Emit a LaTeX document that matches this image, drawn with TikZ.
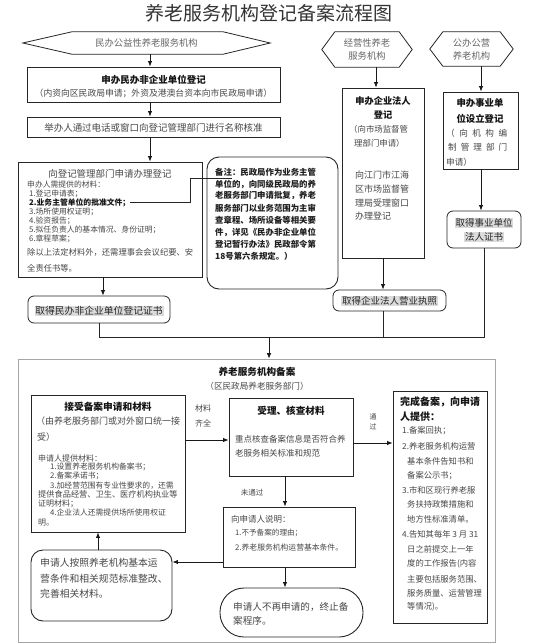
\documentclass[tikz,border=0pt]{standalone}
\usepackage{fontspec}
\setmainfont{Noto Sans CJK SC}
\usetikzlibrary{arrows.meta,fit}
\newcommand\fsz[1]{\fontsize{#1pt}{#1pt}\selectfont}
\begin{document}
\begin{tikzpicture}[x=1pt,y=-1pt,
  box/.style={draw=black!85, line width=0.8pt, inner sep=0pt},
  rbox/.style={box, rounded corners=6pt},
  arr/.style={-{Latex[length=5.5pt,width=4.5pt]}, line width=0.9pt, draw=black!90},
  ln/.style={line width=0.8pt, draw=black!85},
  txt/.style={inner sep=0pt, text=black!72, anchor=west},
  ctxt/.style={txt, anchor=center},
  bt/.style={text=black!92},
  hl/.style={fill=black!14, inner sep=0.8pt}]
\useasboundingbox (0,0) rectangle (538,643);
\fill[white] (0,0) rectangle (538,643);

% title
\node[ctxt, text=black!80, font=\fsz{19}] (title) at (269,13) {养老服务机构登记备案流程图};

% hexagons
\node[ctxt, minimum width=247pt, minimum height=22pt, font=\fsz{9.3}, text=black!60] (h1) at (146.5,43) {民办公益性养老服务机构};
\draw[ln] (h1.west) -- ([xshift=49pt]h1.north west) -- ([xshift=-47pt]h1.north east) -- (h1.east) -- ([xshift=-47pt]h1.south east) -- ([xshift=49pt]h1.south west) -- cycle;
\node[ctxt, minimum width=90pt, minimum height=35pt, align=center, font=\fontsize{9.3pt}{13pt}\selectfont, text=black!60] (h2) at (367,49.5) {经营性养老\\服务机构};
\draw[ln] (h2.west) -- ([xshift=13pt]h2.north west) -- ([xshift=-13pt]h2.north east) -- (h2.east) -- ([xshift=-13pt]h2.south east) -- ([xshift=13pt]h2.south west) -- cycle;
\node[ctxt, minimum width=83pt, minimum height=34pt, align=center, font=\fontsize{9.3pt}{13pt}\selectfont, text=black!60] (h3) at (471.5,49) {公办公营\\养老机构};
\draw[ln] (h3.west) -- ([xshift=13pt]h3.north west) -- ([xshift=-13pt]h3.north east) -- (h3.east) -- ([xshift=-13pt]h3.south east) -- ([xshift=13pt]h3.south west) -- cycle;

% left column
\node[box, fit={(27,67) (280,102)}] (A) {};
\node[ctxt, bt, font=\fsz{9.5}\bfseries] (A1) at (153.5,80) {申办民办非企业单位登记};
\node[ctxt, font=\fsz{8.8}] (A2) at (153.5,93) {（内资向区民政局申请；外资及港澳台资本向市民政局申请）};

\node[box, fit={(27,117) (280,137)}] (B) {};
\node[ctxt, font=\fsz{9.5}] (B1) at (153.5,127.5) {举办人通过电话或窗口向登记管理部门进行名称核准};

\node[box, fit={(18,162) (202,277)}] (C) {};
\node[ctxt, font=\fsz{9.5}] (C0) at (110,174) {向登记管理部门申请办理登记};
\node[txt, font=\fsz{7.8}] (Ch) at (27,185) {申办人需提供的材料：};
\node[txt, font=\fsz{7.8}] (C1) at (29,193.9) {1.登记申请表；};
\node[txt, bt, font=\fsz{7.8}\bfseries] (C2) at (29,202.8) {2.业务主管单位的批准文件；};
\node[txt, font=\fsz{7.8}] (C3) at (29,211.7) {3.场所使用权证明；};
\node[txt, font=\fsz{7.8}] (C4) at (29,220.6) {4.验资报告；};
\node[txt, font=\fsz{7.8}] (C5) at (29,229.5) {5.拟任负责人的基本情况、身份证明；};
\node[txt, font=\fsz{7.8}] (C6) at (29,238.4) {6.章程草案；};
\node[txt, font=\fsz{8.3}] (C7) at (27,252) {除以上法定材料外，还需理事会会议纪要、安};
\node[txt, font=\fsz{8.3}] (C8) at (27,268) {全责任书等。};

\node[box, line width=0.9pt, rounded corners=12pt, fit={(207,157) (338,289)}] (N) {};
\foreach \t [count=\i from 0] in {备注：民政局作为业务主管,单位的，向同级民政局的养,老服务部门申请批复，养老,服务部门以业务范围为主审,查章程、场所设备等相关要,件，详见《民办非企业单位,登记暂行办法》民政部令第,18号第六条规定。）}
  {\node[txt, text=black!88, font=\fsz{8.4}\bfseries] (N\i) at (215,{172+\i*12}) {\t};}
\coordinate (Nmark) at (232,178);
\draw[ln, line width=0.7pt] (C2.east) -- (190,0 |- C2.east) |- (Nmark);

\node[rbox, fit={(28,296) (170,323)}] (D) {};
\node[ctxt, hl, font=\fsz{9.8}, text=black!85] (D1) at (99,311) {取得民办非企业单位登记证书};

\draw[arr] (150,0 |- h1.south) -- (150,0 |- A.north);
\draw[arr] (150,0 |- A.south) -- (150,0 |- B.north);
\draw[arr] (150,0 |- B.south) -- (150,0 |- C.north);
\draw[arr] (103,0 |- C.south) -- (103,0 |- D.north);

% middle column
\node[box, fit={(342,88) (424,258)}] (E) {};
\node[ctxt, bt, font=\fsz{9.2}\bfseries] (E1) at (383,101) {申办企业法人};
\node[ctxt, bt, font=\fsz{9.2}\bfseries] (E2) at (383,115) {登记};
\node[txt, font=\fsz{8.4}] (E3) at (349,129) {（向市场监督管};
\node[txt, font=\fsz{8.4}] (E4) at (354,143) {理部门申请）};
\foreach \t [count=\i from 0] in {向江门市江海,区市场监督管,理局受理窗口,办理登记}
  {\node[txt, font=\fsz{9}] (EE\i) at (355,{175+\i*13.8}) {\t};}
\node[rbox, fit={(333,290) (446,311)}] (F) {};
\node[ctxt, hl, font=\fsz{9.5}, text=black!85] (F1) at (389.5,301) {取得企业法人营业执照};
\draw[arr] (376,0 |- h2.south) -- (376,0 |- E.north);
\draw[arr] (383,0 |- E.south) -- (383,0 |- F.north);

% right column
\node[box, fit={(443,92) (518,169)}] (G) {};
\node[ctxt, bt, font=\fsz{9.4}\bfseries] (G1) at (480,103) {申办事业单};
\node[ctxt, bt, font=\fsz{9.4}\bfseries] (G2) at (480,119) {位设立登记};
\node[txt, font=\fsz{8.6}] (G3) at (446,133) {\makebox[61pt][s]{（\hfill 向\hfill 机\hfill 构\hfill 编}};
\node[txt, font=\fsz{8.6}] (G4) at (448,147) {\makebox[59pt][s]{制\hfill 管\hfill 理\hfill 部\hfill 门}};
\node[txt, font=\fsz{8.6}] (G5) at (446,162) {申请）};
\node[rbox, fit={(447,211) (521,248)}] (H) {};
\node[ctxt, hl, font=\fsz{9.5}, text=black!85] (H1) at (484,223) {取得事业单位};
\node[ctxt, hl, font=\fsz{9.5}, text=black!85] (H2) at (484,237) {法人证书};
\draw[arr] (481,0 |- h3.south) -- (481,0 |- G.north);
\draw[arr] (481,0 |- G.south) -- (481,0 |- H.north);

% junction
\node[draw=black!35, line width=0.6pt, inner sep=0pt, fit={(18,359) (495,642)}] (O) {};
\coordinate (J) at (269,337);
\draw[ln] (D.south) -- (D.south |- J) -- (H.south |- J) -- (H.south);
\draw[ln] (383,0 |- F.south) -- (383,0 |- J);
\draw[arr] (J) -- (269,0 |- O.north);

\node[ctxt, bt, font=\fsz{9.6}\bfseries] (O1) at (257,372) {养老服务机构备案};
\node[ctxt, font=\fsz{8.6}] (O2) at (257,386) {（区民政局养老服务部门）};

% P
\node[box, fit={(31,395) (185,532)}] (P) {};
\node[ctxt, bt, font=\fsz{9.7}\bfseries] (P0) at (108,407) {接受备案申请和材料};
\node[txt, font=\fsz{9}] (P1) at (36,421) {（由养老服务部门或对外窗口统一接};
\node[txt, font=\fsz{9}] (P2) at (37,437) {受）};
\node[txt, font=\fsz{8}] (P3) at (38,458) {申请人提供材料：};
\node[txt, font=\fsz{7.8}] (P4) at (50,467) {1.设置养老服务机构备案书；};
\node[txt, font=\fsz{7.8}] (P5) at (50,476) {2.备案承诺书；};
\node[txt, font=\fsz{7.8}] (P6) at (50,485.5) {3.加经营范围有专业性要求的，还需};
\node[txt, font=\fsz{8.2}] (P7) at (38,494.5) {提供食品经营、卫生、医疗机构执业等};
\node[txt, font=\fsz{8}] (P8) at (38,503.5) {证明材料；};
\node[txt, font=\fsz{7.8}] (P9) at (50,513) {4.企业法人还需提供场所使用权证};
\node[txt, font=\fsz{8}] (P10) at (38,523) {明。};

% Q
\node[box, fit={(229,398) (353,476)}] (Q) {};
\node[ctxt, bt, font=\fsz{9.6}\bfseries] (Q0) at (291,411) {受理、核查材料};
\node[txt, font=\fsz{8.5}] (Q1) at (235,439) {重点核查备案信息是否符合养};
\node[txt, font=\fsz{8.5}] (Q2) at (235,453) {老服务相关标准和规范};

% R
\node[box, fit={(393,391) (487,623)}] (R) {};
\node[txt, bt, font=\fsz{10}\bfseries] (R0) at (400,402) {完成备案，向申请};
\node[txt, bt, font=\fsz{10}\bfseries] (R1) at (400,417) {人提供：};
\node[txt, font=\fsz{8.3}] (R2) at (402,431) {1.备案回执；};
\node[txt, font=\fsz{8.3}] (R3) at (402,446) {2.养老服务机构运营};
\node[txt, font=\fsz{8.3}] (R4) at (407,461) {基本条件告知书和};
\node[txt, font=\fsz{8.3}] (R5) at (407,476) {备案公示书；};
\node[txt, font=\fsz{8.3}] (R6) at (402,490) {3.市和区现行养老服};
\node[txt, font=\fsz{8.3}] (R7) at (407,504) {务扶持政策措施和};
\node[txt, font=\fsz{8.3}] (R8) at (407,519) {地方性标准清单。};
\node[txt, font=\fsz{8.3}] (R9) at (402,534) {4.告知其每年 3 月 31};
\node[txt, font=\fsz{8.3}] (R10) at (407,549) {日之前提交上一年};
\node[txt, font=\fsz{8.3}] (R11) at (407,564) {度的工作报告(内容};
\node[txt, font=\fsz{8.3}] (R12) at (407,579) {主要包括服务范围、};
\node[txt, font=\fsz{8.3}] (R13) at (407,593) {服务质量、运营管理};
\node[txt, font=\fsz{8.3}] (R14) at (407,607) {等情况)。};

% S, T, U
\node[box, fit={(223,507) (355,567)}] (S) {};
\node[txt, font=\fsz{8.5}] (S0) at (231,519) {向申请人说明：};
\node[txt, font=\fsz{7.6}] (S1) at (235,533) {1.不予备案的理由；};
\node[txt, font=\fsz{7.8}] (S2) at (235,548) {2.养老服务机构运营基本条件。};

\node[box, line width=0.9pt, rounded corners=24pt, fit={(220,588) (363,637)}] (T) {};
\node[txt, font=\fsz{9.6}] (T1) at (233,607) {申请人不再申请的，终止备};
\node[txt, font=\fsz{9.6}] (T2) at (233,621) {案程序。};

\node[box, line width=0.9pt, rounded corners=12pt, fit={(31,550) (172,621)}] (U) {};
\node[txt, font=\fsz{9.8}] (U1) at (40,563) {申请人按照养老机构基本运};
\node[txt, font=\fsz{9.8}] (U2) at (40,579) {营条件和相关规范标准整改、};
\node[txt, font=\fsz{9.8}] (U3) at (40,594) {完善相关材料。};

% labels
\node[ctxt, font=\fsz{8}] (L1) at (203,408) {材料};
\node[ctxt, font=\fsz{8}] (L2) at (203,423) {齐全};
\node[ctxt, font=\fsz{7}] (L3) at (373,417) {通};
\node[ctxt, font=\fsz{7}] (L4) at (373,427) {过};
\node[ctxt, font=\fsz{7.5}] (L5) at (252,493) {未通过};

% arrows in lower part
\draw[arr] (P.east |- 0,440) -- (Q.west |- 0,440);
\draw[arr] (Q.east |- 0,443) -- (R.west |- 0,443);
\draw[arr] (285,0 |- Q.south) -- (285,0 |- S.north);
\draw[arr] (285,0 |- S.south) -- (285,0 |- T.north);
\draw[arr] (S.west |- 0,562) -- (U.east |- 0,562);
\draw[arr] (98,0 |- U.north) -- (98,0 |- P.south);
\end{tikzpicture}
\end{document}
